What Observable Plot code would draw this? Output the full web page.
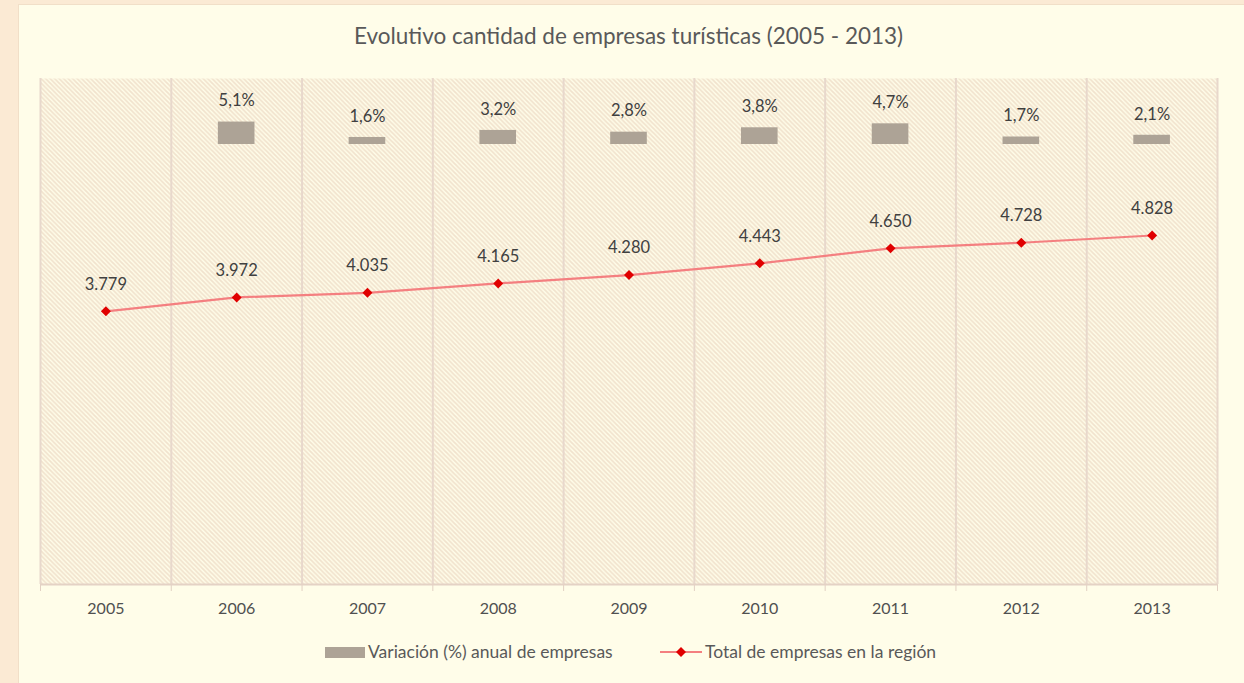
<!DOCTYPE html>
<html>
<head>
<meta charset="utf-8">
<script src="https://cdn.jsdelivr.net/npm/d3@7"></script>
<script src="https://cdn.jsdelivr.net/npm/@observablehq/plot@0.6"></script>
<style>
  html, body { margin: 0; padding: 0; width: 1244px; height: 683px; overflow: hidden; background: #FBEAD4; font-family: Lato, "Open Sans", sans-serif; }
  #card { position: absolute; left: 18px; top: 4px; width: 1240px; height: 700px; background: #FFFDE9; border: 1px solid #F1DFC8; box-sizing: border-box; }
  #title { position: absolute; left: 40px; width: 1177px; top: 23px; line-height: 26px; text-align: center; font-size: 22.5px; color: #595959; }
  #chart { position: absolute; left: 18px; top: 60px; width: 1226px; height: 560px; }
  #chart svg { position: absolute; left: 0; top: 0; }
  .lg { position: absolute; top: 641px; line-height: 22px; font-size: 17.5px; color: #595959; white-space: nowrap; }
  #sw { position: absolute; left: 325px; top: 647px; width: 40px; height: 11px; background: #ADA396; }
  #lgline { position: absolute; left: 660px; top: 642px; }
</style>
</head>
<body>
<div id="card"></div>
<div id="title">Evolutivo cantidad de empresas turísticas (2005 - 2013)</div>
<div id="chart"></div>
<div id="sw"></div>
<div class="lg" style="left:368px">Variación (%) anual de empresas</div>
<svg id="lgline" width="44" height="20"><line x1="0" y1="10" x2="42" y2="10" stroke="#F47F80" stroke-width="2"/><path d="M21,5 L26,10 L21,15 L16,10 Z" fill="#E00000"/></svg>
<div class="lg" style="left:705px">Total de empresas en la región</div>
<script>
const years = ["2005", "2006", "2007", "2008", "2009", "2010", "2011", "2012", "2013"];
const totals = [3779, 3972, 4035, 4165, 4280, 4443, 4650, 4728, 4828];
const variation = [null, 5.1, 1.6, 3.2, 2.8, 3.8, 4.7, 1.7, 2.1];

const totalData = years.map((year, i) => ({year, total: totals[i]}));
const varData = years.map((year, i) => ({year, pct: variation[i]})).filter(d => d.pct != null);
const boundaries = d3.range(years.length + 1);

const loc = d3.formatLocale({decimal: ",", thousands: ".", grouping: [3], currency: ["", "€"]});
const fmtInt = loc.format(",");
const fmtPct = v => loc.format(".1f")(v) + "%";

const dims = {width: 1226, height: 560, marginLeft: 22, marginRight: 27, marginTop: 18, marginBottom: 36};
const chart = document.getElementById("chart");

// Background: hatched plot area, vertical category gridlines, axis line and ticks
const bg = Plot.plot({
  ...dims,
  style: {background: "transparent", color: "#E2D0C3"},
  x: {domain: [0, years.length], ticks: boundaries, tickSize: 7, tickFormat: () => "", line: false},
  y: {domain: [0, 7000], axis: null},
  marks: [
    Plot.frame({fill: "url(#hatch)", stroke: null}),
    Plot.ruleX(boundaries, {stroke: "#E8D8CC", strokeWidth: 2}),
    Plot.ruleY([0], {stroke: "#E4D2C5", strokeWidth: 2})
  ]
});
const defs = d3.select(bg).insert("defs", ":first-child");
const pat = defs.append("pattern").attr("id", "hatch").attr("patternUnits", "userSpaceOnUse").attr("width", 4.5).attr("height", 4.5);
pat.append("rect").attr("width", 4.5).attr("height", 4.5).attr("fill", "#FFFDE9");
pat.append("path").attr("d", "M0,0 L4.5,4.5 M-1,3.5 L1,5.5 M3.5,-1 L5.5,1").attr("stroke", "#F1E2CD").attr("stroke-width", 1.7);
chart.appendChild(bg);

// Secondary series: annual variation bars
const bars = Plot.plot({
  ...dims,
  style: {background: "transparent", fontFamily: "Lato, 'Open Sans', sans-serif", fontSize: "16.5px"},
  x: {type: "band", domain: years, paddingInner: 0.72, paddingOuter: 0.36, round: false, axis: null},
  y: {domain: [-100, 15], axis: null},
  marks: [
    Plot.barY(varData, {x: "year", y: "pct", fill: "#ADA396"}),
    Plot.text(varData, {x: "year", y: "pct", text: d => fmtPct(d.pct), dy: -21, fill: "#404040", fontSize: 16.5})
  ]
});
chart.appendChild(bars);

// Primary series: total companies line
const main = Plot.plot({
  ...dims,
  style: {background: "transparent", fontFamily: "Lato, 'Open Sans', sans-serif", fontSize: "16px", color: "#505050"},
  x: {type: "band", domain: years, padding: 0, round: false, tickSize: 0, tickPadding: 18, label: null},
  y: {domain: [0, 7000], axis: null},
  marks: [
    Plot.line(totalData, {x: "year", y: "total", stroke: "#F47F80", strokeWidth: 2.2}),
    Plot.dot(totalData, {x: "year", y: "total", symbol: "diamond2", r: 4.5, fill: "#E00000", stroke: null}),
    Plot.text(totalData, {x: "year", y: "total", text: d => fmtInt(d.total), dy: -27, fill: "#404040", fontSize: 16.5})
  ]
});
chart.appendChild(main);
</script>
</body>
</html>
